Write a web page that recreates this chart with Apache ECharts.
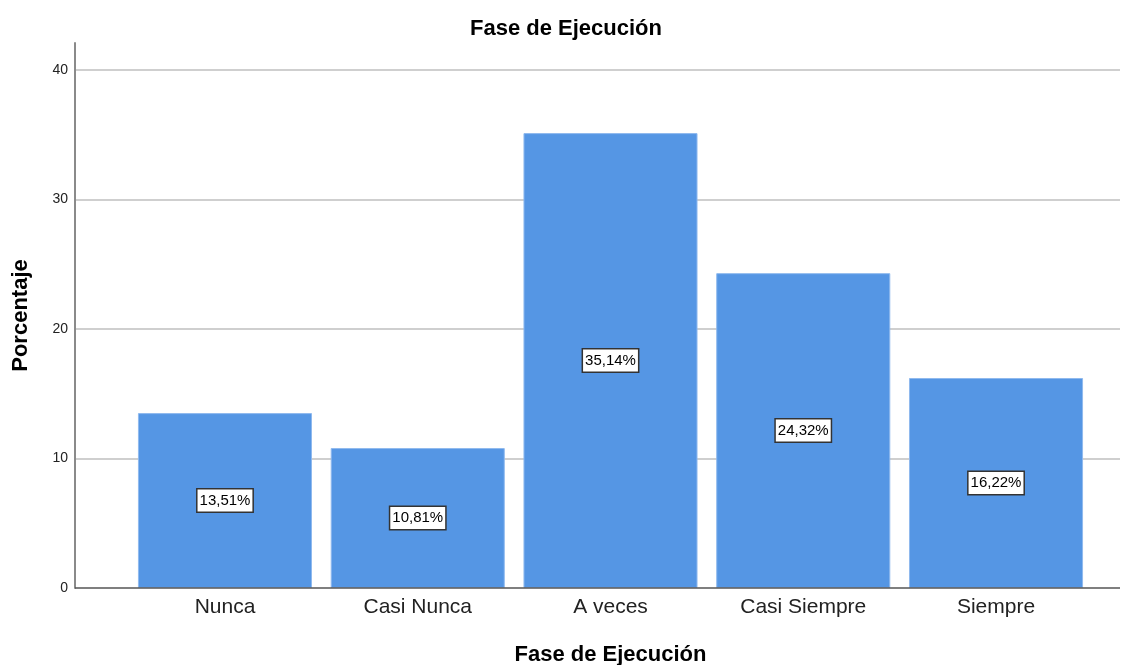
<!DOCTYPE html>
<html>
<head>
<meta charset="utf-8">
<script src="https://cdn.jsdelivr.net/npm/echarts@6/dist/echarts.min.js"></script>
<style>
    html, body { margin: 0; padding: 0; background: #fff; }
    #chart { width: 1132px; height: 665px; }
</style>
</head>
<body>
<div id="chart"></div>
<script>
const categories = ['Nunca', 'Casi Nunca', 'A veces', 'Casi Siempre', 'Siempre'];
const percentages = [13.51, 10.81, 35.14, 24.32, 16.22];
const yTicks = [0, 10, 20, 30, 40];

const font = 'Liberation Sans, Arial, sans-serif';
const chart = echarts.init(document.getElementById('chart'), null, { renderer: 'canvas' });

const option = {
    backgroundColor: '#fff',
    animation: false,
    title: {
        text: 'Fase de Ejecución',
        left: 'center',
        top: 13,
        textStyle: { fontFamily: font, fontSize: 22, fontWeight: 'bold', color: '#000' }
    },
    grid: [
        // frame grid: y axis and gridlines
        { left: 75, right: 12, top: 43, bottom: 77, containLabel: false, outerBoundsMode: 'none' },
        // bars grid
        { left: 128.6, right: 39.6, top: 43, bottom: 77, containLabel: false, outerBoundsMode: 'none' }
    ],
    xAxis: [
        {
            gridIndex: 0,
            type: 'value',
            show: false
        },
        {
            gridIndex: 1,
            type: 'category',
            data: categories,
            name: 'Fase de Ejecución',
            nameLocation: 'middle',
            nameGap: 56,
            nameTextStyle: { fontFamily: font, fontSize: 22, fontWeight: 'bold', color: '#000' },
            axisLine: { show: false },
            axisTick: { show: false },
            axisLabel: { fontFamily: font, fontSize: 21, color: '#222', margin: 9 }
        }
    ],
    yAxis: [
        {
            gridIndex: 0,
            type: 'value',
            min: 0,
            max: 42.1,
            interval: 10,
            name: 'Porcentaje',
            nameLocation: 'middle',
            nameGap: 43,
            nameTextStyle: { fontFamily: font, fontSize: 22, fontWeight: 'bold', color: '#000' },
            axisLine: { show: true, lineStyle: { color: '#8a8a8a', width: 2 } },
            axisTick: { show: false },
            axisLabel: {
                fontFamily: font, fontSize: 14, color: '#222', margin: 7,
                showMaxLabel: false,
                formatter: v => yTicks.includes(v) ? String(v) : ''
            },
            splitLine: { show: true, showMinLine: false, showMaxLine: false, lineStyle: { color: '#cfcfcf', width: 2 } }
        },
        {
            gridIndex: 1,
            type: 'value',
            min: 0,
            max: 42.1,
            show: false
        }
    ],
    graphic: [
        {
            type: 'line',
            shape: { x1: 75, y1: 588, x2: 1120, y2: 588 },
            style: { stroke: '#555', lineWidth: 1.5 },
            z: 10
        }
    ],
    series: [
        {
            type: 'bar',
            xAxisIndex: 1,
            yAxisIndex: 1,
            data: percentages,
            barCategoryGap: '9.7%',
            itemStyle: { color: '#5596e4', borderColor: '#8fb9ee', borderWidth: 1 },
            label: {
                show: true,
                position: 'inside',
                formatter: p => p.value.toFixed(2).replace('.', ',') + '%',
                fontFamily: font,
                fontSize: 15,
                color: '#000',
                backgroundColor: '#fff',
                borderColor: '#333',
                borderWidth: 1.5,
                padding: [4, 2, 3, 2]
            }
        }
    ]
};

chart.setOption(option);
</script>
</body>
</html>
